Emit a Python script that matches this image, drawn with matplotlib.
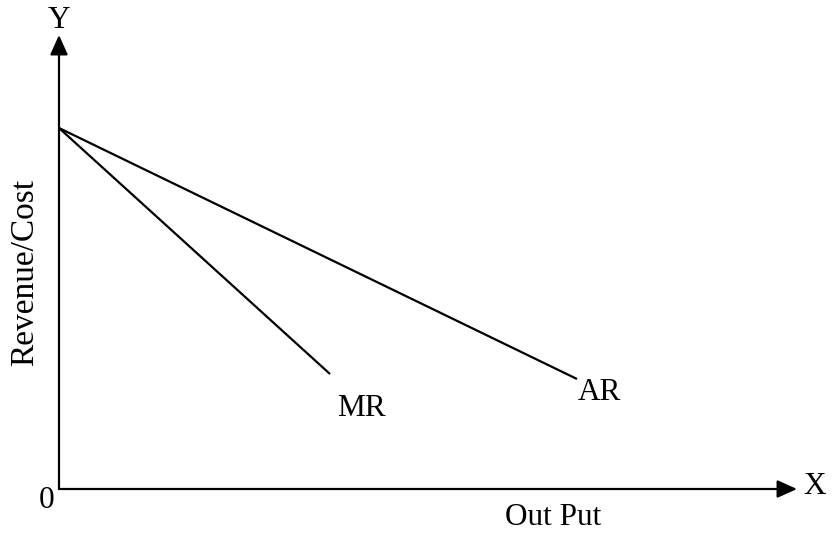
import matplotlib
matplotlib.use("Agg")
from matplotlib import pyplot as plt

# Кривые (в пикселях относительно начала координат)
ar_x = [0, 518]
ar_y = [361, 110]
mr_x = [0, 271]
mr_y = [361, 115]

# Длина осей
x_axis_end = 738
y_axis_end = 454

plt.rcParams['font.family'] = ['Liberation Serif', 'DejaVu Serif']

fig = plt.figure(figsize=(8.32, 5.34), dpi=100)
ax = fig.add_axes([0, 0, 1, 1])
ax.set_xlim(-59, 832 - 59)
ax.set_ylim(-(534 - 489), 489)
ax.axis('off')

# Оси со стрелками
arrow = dict(arrowstyle='-|>,head_length=0.4,head_width=0.18', mutation_scale=30,
             lw=1.6, color='black', shrinkA=0, shrinkB=0)
ax.annotate('', xy=(0, y_axis_end), xytext=(0, 0), arrowprops=arrow)
ax.annotate('', xy=(x_axis_end, 0), xytext=(0, 0), arrowprops=arrow)

# Линии AR и MR
ax.plot(ar_x, ar_y, color='black', lw=1.6, solid_capstyle='butt')
ax.plot(mr_x, mr_y, color='black', lw=1.6, solid_capstyle='butt')

fs = 22.5
ax.text(0, 468, 'Y', fontsize=fs, ha='center', va='center')
ax.text(756, 2, 'X', fontsize=fs, ha='center', va='center')
ax.text(-12, -12, '0', fontsize=fs, ha='center', va='center')
ax.text(278, 73, 'MR', fontsize=fs, ha='left', va='baseline')
ax.text(519, 89, 'AR', fontsize=fs, ha='left', va='baseline')
ax.text(446, -36, 'Out Put', fontsize=fs, ha='left', va='baseline')
ax.text(-34, 217, 'Revenue/Cost', fontsize=24, ha='center', va='center', rotation=90)

fig.savefig('out.png', dpi=100)
